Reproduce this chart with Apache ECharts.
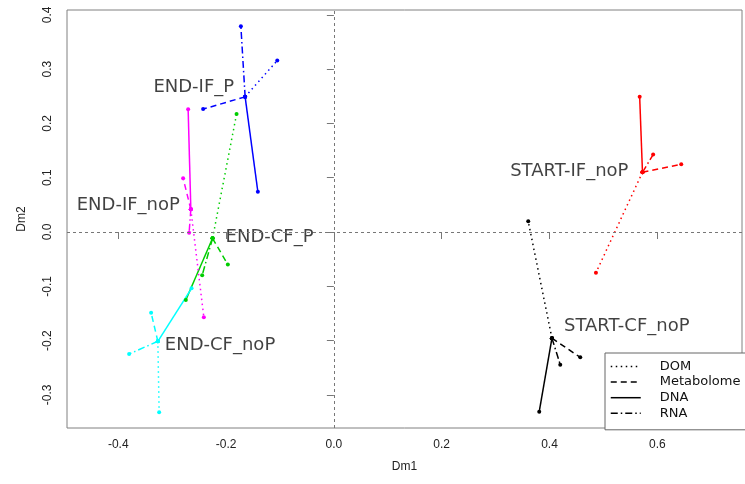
<!DOCTYPE html>
<html>
<head>
<meta charset="utf-8">
<script src="https://cdn.jsdelivr.net/npm/echarts@6/dist/echarts.min.js"></script>
<style>
  html, body { margin: 0; padding: 0; background: #fff; }
  #chart { width: 745px; height: 484px; }
</style>
</head>
<body>
<div id="chart"></div>
<script>
// groups (centroids) and the four partial datasets
var groups = ['START-CF_noP', 'START-IF_noP', 'END-CF_P', 'END-IF_P', 'END-CF_noP', 'END-IF_noP']
var centroidX = [0.4045, 0.5724, -0.225, -0.1646, -0.3265, -0.2653]
var centroidY = [-0.1956, 0.110, -0.0116, 0.249, -0.2013, 0.0418]

var datasets = ['DOM', 'Metabolome', 'DNA', 'RNA']
var domX = [0.3605, 0.4861, -0.1805, -0.105, -0.3241, -0.2412]
var domY = [0.0197, -0.075, 0.2173, 0.316, -0.332, -0.157]
var metX = [0.457, 0.6443, -0.1967, -0.2425, -0.339, -0.2796]
var metY = [-0.2308, 0.1247, -0.0599, 0.2265, -0.1486, 0.0989]
var dnaX = [0.3809, 0.5672, -0.2746, -0.141, -0.264, -0.2703]
var dnaY = [-0.331, 0.2492, -0.1252, 0.0742, -0.1037, 0.226]
var rnaX = [0.4199, 0.5922, -0.2443, -0.1725, -0.3798, -0.2685]
var rnaY = [-0.2444, 0.1427, -0.0797, 0.379, -0.2247, -0.0013]

var xTicks = [-0.4, -0.2, 0.0, 0.2, 0.4, 0.6]
var yTicks = [-0.3, -0.2, -0.1, 0.0, 0.1, 0.2, 0.3, 0.4]

// styles
var groupColors = ['#000000', '#ff0000', '#00cd00', '#0000ff', '#00ffff', '#ff00ff']
var dashTypes = [[1.5, 3.5], [6, 4], 'solid', [7, 3, 1.5, 3]]
var labelSide = ['right', 'left', 'right', 'left', 'right', 'left']
var labelShift = [[0, -12], [0, -1], [0, -1], [0, -10], [0, 4], [0, -4]]
var labelDist = [10, 12, 11, 9, 5, 9]

var partX = [domX, metX, dnaX, rnaX]
var partY = [domY, metY, dnaY, rnaY]

var series = []

// reference lines at 0
series.push({
  type: 'line',
  data: [],
  silent: true,
  markLine: {
    silent: true,
    symbol: 'none',
    label: { show: false },
    lineStyle: { color: '#777', type: [3, 3], width: 1 },
    data: [{ xAxis: 0 }, { yAxis: 0 }]
  }
})

groups.forEach(function (g, gi) {
  datasets.forEach(function (d, di) {
    series.push({
      name: g + ' ' + d,
      type: 'line',
      symbol: 'circle',
      symbolSize: 4,
      color: groupColors[gi],
      lineStyle: { color: groupColors[gi], width: 1.5, type: dashTypes[di] },
      data: [[centroidX[gi], centroidY[gi]], [partX[di][gi], partY[di][gi]]],
      z: 3
    })
  })
})

// centroid labels
series.push({
  type: 'scatter',
  symbolSize: 4,
  data: groups.map(function (g, gi) {
    return {
      name: g,
      value: [centroidX[gi], centroidY[gi]],
      itemStyle: { color: groupColors[gi] },
      label: { position: labelSide[gi], offset: labelShift[gi], distance: labelDist[gi] }
    }
  }),
  label: {
    show: true,
    formatter: '{b}',
    fontFamily: 'DejaVu Sans',
    fontSize: 18,
    color: '#111'
  },
  z: 4
})

// legend entries
datasets.forEach(function (d, di) {
  series.push({
    name: d,
    type: 'line',
    data: [],
    symbol: 'none',
    color: '#000',
    lineStyle: { color: '#000', width: 1.5, type: dashTypes[di] }
  })
})

var option = {
  animation: false,
  backgroundColor: '#fff',
  grid: {
    left: 67,
    right: 3,
    top: 10,
    bottom: 56,
    show: true,
    borderColor: '#808080',
    borderWidth: 1
  },
  legend: {
    data: datasets,
    orient: 'vertical',
    left: 605,
    top: 353,
    itemWidth: 30,
    itemHeight: 12,
    itemGap: 2.6,
    padding: [7, 8, 10, 5],
    backgroundColor: '#fff',
    borderColor: '#666',
    borderWidth: 1,
    borderRadius: 0,
    selectedMode: false,
    itemStyle: { opacity: 0 },
    lineStyle: { color: '#000', width: 1.5 },
    textStyle: { fontFamily: 'DejaVu Sans', fontSize: 13, color: '#111', padding: [0, 0, 0, 14] }
  },
  xAxis: {
    type: 'value',
    min: -0.495,
    max: 0.757,
    name: 'Dm1',
    nameLocation: 'middle',
    nameGap: 33,
    nameTextStyle: { fontFamily: 'Liberation Sans', fontSize: 12, color: '#222' },
    axisLine: { show: false },
    axisTick: { show: true, inside: false, length: 7, customValues: xTicks, lineStyle: { color: '#777' } },
    axisLabel: {
      customValues: xTicks,
      margin: 11,
      fontFamily: 'Liberation Sans',
      fontSize: 12,
      color: '#222',
      formatter: function (v) { return v.toFixed(1) }
    },
    splitLine: { show: false }
  },
  yAxis: {
    type: 'value',
    min: -0.361,
    max: 0.409,
    name: 'Dm2',
    nameLocation: 'middle',
    nameGap: 39,
    nameRotate: 90,
    nameTextStyle: { fontFamily: 'Liberation Sans', fontSize: 12, color: '#222' },
    axisLine: { show: false },
    axisTick: { show: true, inside: false, length: 7, customValues: yTicks, lineStyle: { color: '#777' } },
    axisLabel: {
      customValues: yTicks,
      rotate: 90,
      margin: 13,
      fontFamily: 'Liberation Sans',
      fontSize: 12,
      color: '#222',
      formatter: function (v) { return v.toFixed(1) }
    },
    splitLine: { show: false }
  },
  series: series
}

var chart = echarts.init(document.getElementById('chart'))
chart.setOption(option)
</script>
</body>
</html>
